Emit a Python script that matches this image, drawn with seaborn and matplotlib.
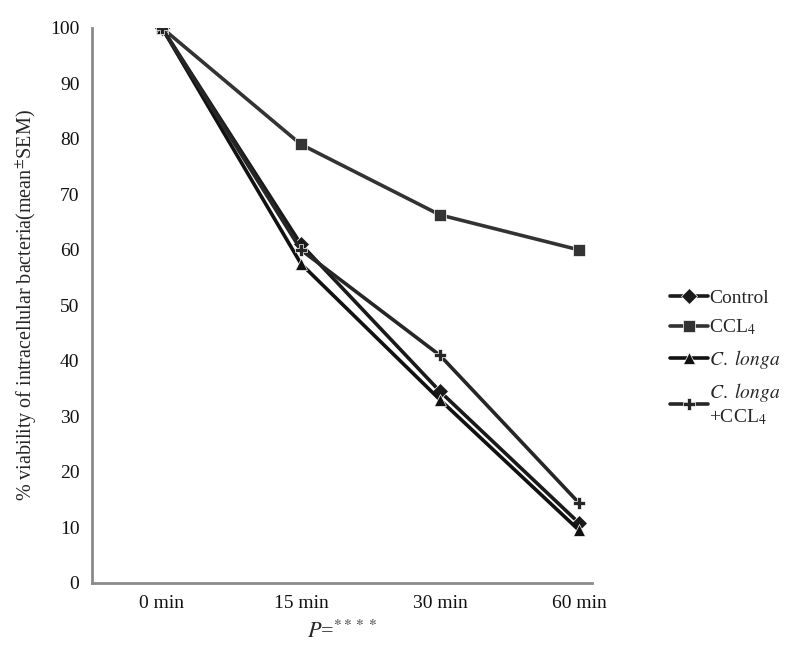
import matplotlib
matplotlib.use("Agg")
import matplotlib.pyplot as plt
import seaborn as sns
import pandas as pd

times = ["0 min", "15 min", "30 min", "60 min"]
control = [100, 61, 34.5, 10.8]
ccl4 = [100, 79, 66.3, 60]
c_longa = [100, 57.5, 33, 9.5]
c_longa_ccl4 = [100, 60, 41, 14.4]

series_names = ["Control", "CCL$_4$", "$C.\\ longa$", "$C.\\ longa$\n+CCL$_4$"]
series_values = [control, ccl4, c_longa, c_longa_ccl4]

rows = []
for name, vals in zip(series_names, series_values):
    for t, v in zip(times, vals):
        rows.append({"time": t, "value": v, "group": name})
df = pd.DataFrame(rows)

sns.set_theme(style="white")
plt.rcParams["font.family"] = ["Liberation Serif", "DejaVu Serif"]
plt.rcParams["mathtext.fontset"] = "stix"

fig = plt.figure(figsize=(7.99, 6.47), dpi=100)
ax = fig.add_axes([0.115, 0.099, 0.626, 0.858])

palette = {series_names[0]: "#1a1a1a", series_names[1]: "#333333",
           series_names[2]: "#111111", series_names[3]: "#262626"}
markers = {series_names[0]: "D", series_names[1]: "s",
           series_names[2]: "^", series_names[3]: "P"}

sns.lineplot(data=df, x="time", y="value", hue="group", style="group",
             palette=palette, markers=markers, dashes=False, linewidth=2.6,
             markersize=8, markeredgewidth=0.5, ax=ax, legend=True)

ax.set_ylim(0, 100)
ax.set_xlim(-0.504, 3.094)
ax.set_yticks(range(0, 101, 10))
ax.tick_params(axis="both", length=0, labelsize=14, colors="#111111", pad=9)
for s in ["top", "right"]:
    ax.spines[s].set_visible(False)
for s in ["left", "bottom"]:
    ax.spines[s].set_color("#8a8a8a")
    ax.spines[s].set_linewidth(2)

ax.set_ylabel("% viability of intracellular bacteria(mean$^{\\pm}$SEM)", fontsize=14.5, labelpad=8)
ax.set_xlabel("$P$=$^{****}$", fontsize=16, labelpad=6)

handles, labels = ax.get_legend_handles_labels()
leg = ax.legend(handles, labels, loc="center left", bbox_to_anchor=(1.12, 0.405),
                frameon=False, fontsize=14, handlelength=2.0, handletextpad=0.05,
                labelspacing=0.55)

fig.savefig("out.png", dpi=100)
